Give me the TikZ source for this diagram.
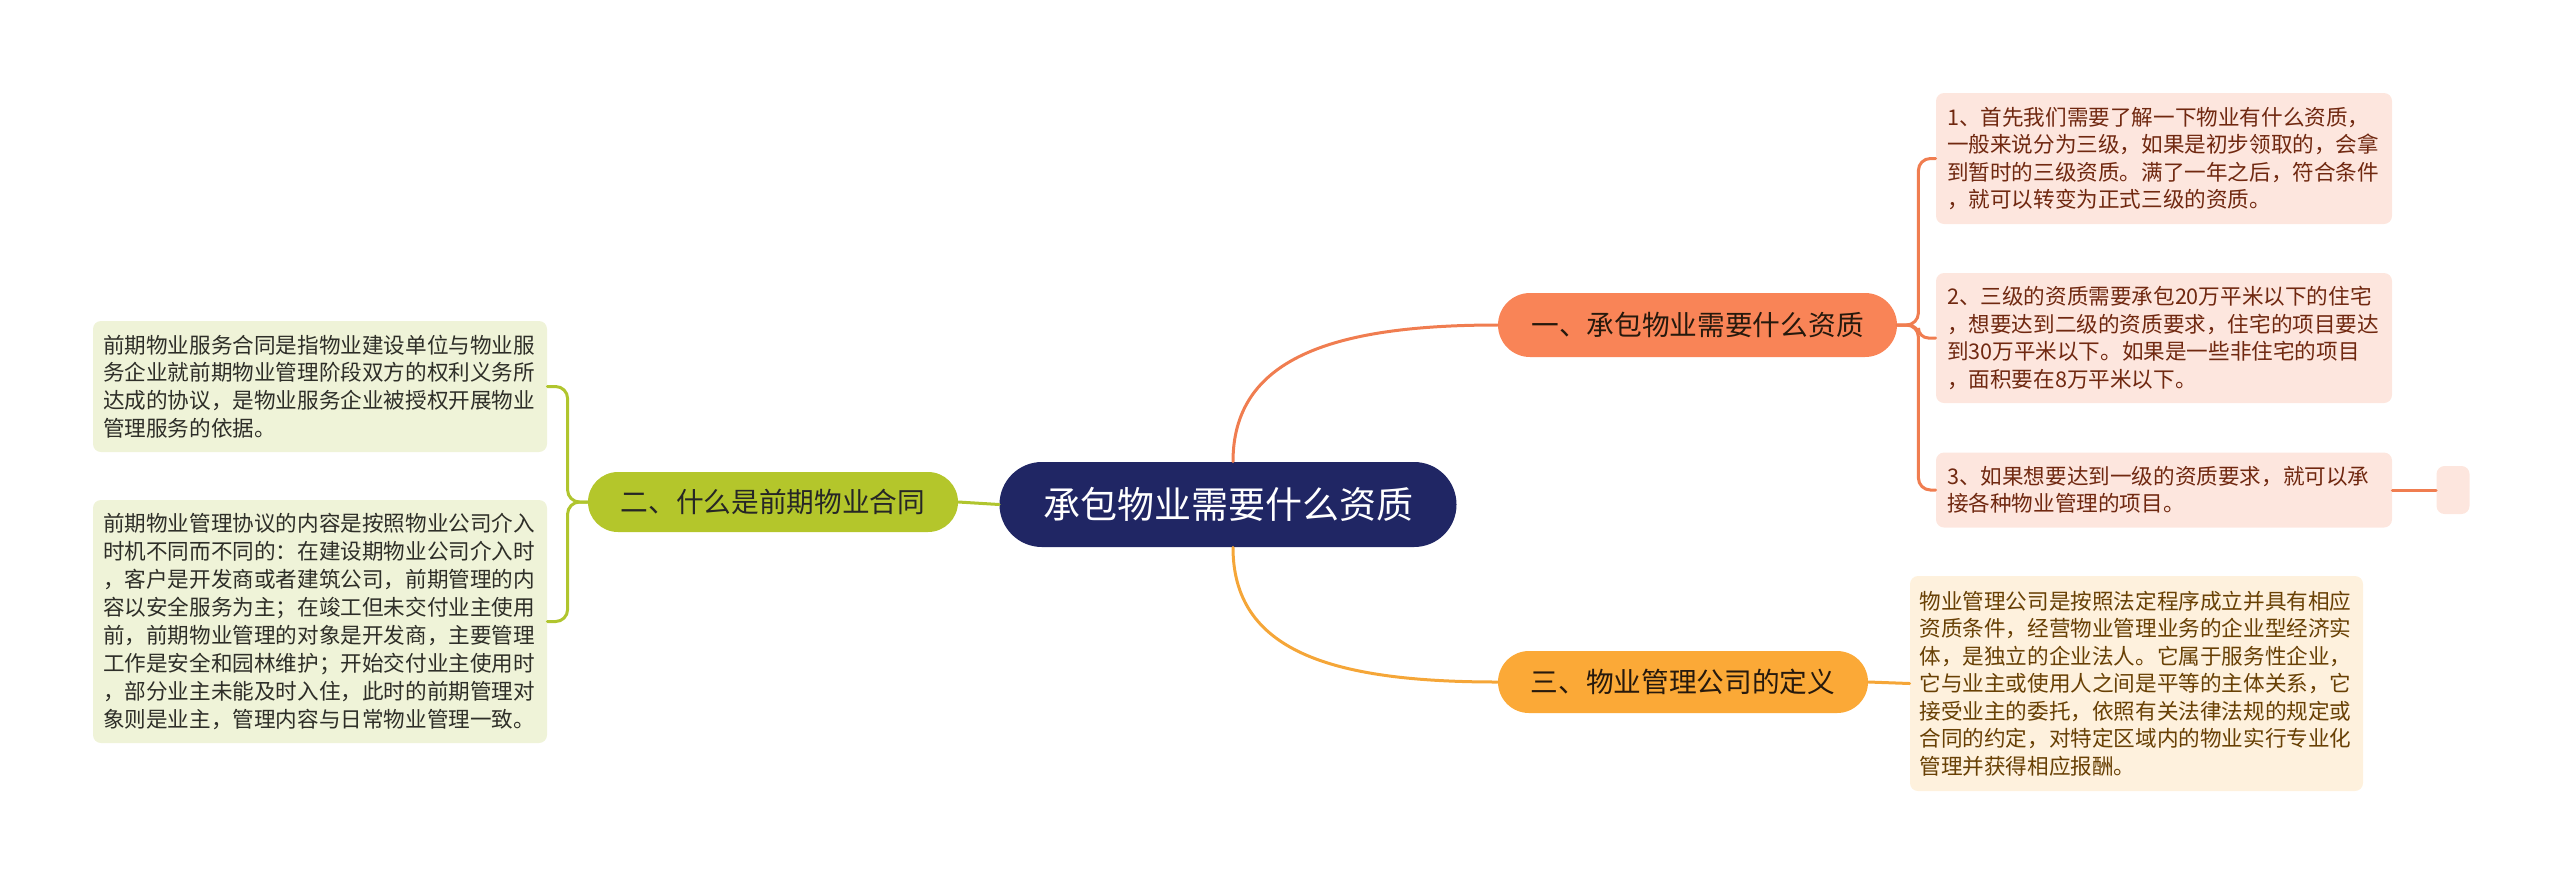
\documentclass[tikz,border=0pt]{standalone}
\usepackage{fontspec}
\setmainfont{Noto Sans CJK SC}
\usetikzlibrary{calc}
\definecolor{navy}{RGB}{32,38,100}
\definecolor{coral}{RGB}{249,132,87}
\definecolor{coralline}{RGB}{240,125,80}
\definecolor{orng}{RGB}{251,169,55}
\definecolor{orngline}{RGB}{245,166,56}
\definecolor{grn}{RGB}{180,198,43}
\definecolor{grnline}{RGB}{176,197,46}
\definecolor{pinkleaf}{RGB}{253,230,222}
\definecolor{pinktext}{RGB}{112,40,16}
\definecolor{creamleaf}{RGB}{254,241,221}
\definecolor{creamtext}{RGB}{104,64,4}
\definecolor{greenleaf}{RGB}{239,243,216}
\definecolor{greentext}{RGB}{46,46,40}
\tikzset{
  pillnode/.style={inner sep=0pt, align=center},
  leafnode/.style={inner sep=0pt, align=left, rounded corners=4pt},
  leaftext/.style={leafnode, text width=217pt},
  conn/.style={line width=1.5pt, line cap=round},
}
\begin{document}
\begin{tikzpicture}[x=0.5pt, y=-0.5pt]
\useasboundingbox (0,0) rectangle (2560,885);

% central
\node[pillnode, fill=navy, text=white, minimum width=228.5pt, minimum height=42.5pt, rounded corners=21.2pt,
  font=\fontsize{18.5pt}{22pt}\selectfont] (c) at (1228,504.5) {承包物业需要什么资质};

% branches
\node[pillnode, fill=coral, text=black!80!brown, minimum width=199.5pt, minimum height=32pt, rounded corners=16pt,
  font=\fontsize{13.85pt}{16pt}\selectfont] (b1) at (1697.5,325) {一、承包物业需要什么资质};
\node[pillnode, fill=grn, text=black!85, minimum width=185pt, minimum height=30pt, rounded corners=15pt,
  font=\fontsize{13.85pt}{16pt}\selectfont] (b2) at (773,502) {二、什么是前期物业合同};
\node[pillnode, fill=orng, text=black!80!brown, minimum width=185pt, minimum height=31pt, rounded corners=15.5pt,
  font=\fontsize{13.85pt}{16pt}\selectfont] (b3) at (1683,682) {三、物业管理公司的定义};

% right leaves of branch 1
\node[leaftext, fill=pinkleaf, text=pinktext, minimum width=228pt, minimum height=65.5pt,
  font=\fontsize{10.8pt}{13.7pt}\selectfont] (l1) at (2164,158.5) {1、首先我们需要了解一下物业有什么资质，\\一般来说分为三级，如果是初步领取的，会拿\\到暂时的三级资质。满了一年之后，符合条件\\，就可以转变为正式三级的资质。};
\node[leaftext, fill=pinkleaf, text=pinktext, minimum width=228pt, minimum height=65pt,
  font=\fontsize{10.8pt}{13.7pt}\selectfont] (l2) at (2164,338) {2、三级的资质需要承包20万平米以下的住宅\\，想要达到二级的资质要求，住宅的项目要达\\到30万平米以下。如果是一些非住宅的项目\\，面积要在8万平米以下。};
\node[leaftext, fill=pinkleaf, text=pinktext, minimum width=228pt, minimum height=37.5pt,
  font=\fontsize{10.8pt}{13.7pt}\selectfont] (l3) at (2164,490) {3、如果想要达到一级的资质要求，就可以承\\接各种物业管理的项目。};
\node[leafnode, fill=pinkleaf, minimum width=16.5pt, minimum height=24pt] (sm) at (2453,490) {};

% leaf of branch 3
\node[leaftext, fill=creamleaf, text=creamtext, minimum width=226.5pt, minimum height=107.5pt,
  font=\fontsize{10.8pt}{13.75pt}\selectfont] (l4) at (2136.5,683.5) {物业管理公司是按照法定程序成立并具有相应\\资质条件，经营物业管理业务的企业型经济实\\体，是独立的企业法人。它属于服务性企业，\\它与业主或使用人之间是平等的主体关系，它\\接受业主的委托，依照有关法律法规的规定或\\合同的约定，对特定区域内的物业实行专业化\\管理并获得相应报酬。};

% left leaves of branch 2
\node[leaftext, fill=greenleaf, text=greentext, minimum width=227pt, minimum height=65.5pt,
  font=\fontsize{10.8pt}{13.9pt}\selectfont] (la) at (320,386.5) {前期物业服务合同是指物业建设单位与物业服\\务企业就前期物业管理阶段双方的权利义务所\\达成的协议，是物业服务企业被授权开展物业\\管理服务的依据。};
\node[leaftext, fill=greenleaf, text=greentext, minimum width=227pt, minimum height=121.5pt,
  font=\fontsize{10.8pt}{14pt}\selectfont] (lb) at (320,621.5) {前期物业管理协议的内容是按照物业公司介入\\时机不同而不同的：在建设期物业公司介入时\\，客户是开发商或者建筑公司，前期管理的内\\容以安全服务为主；在竣工但未交付业主使用\\前，前期物业管理的对象是开发商，主要管理\\工作是安全和园林维护；开始交付业主使用时\\，部分业主未能及时入住，此时的前期管理对\\象则是业主，管理内容与日常物业管理一致。};

% connectors from central
\draw[conn, coralline] ($(c.north)+(5,0)$) .. controls +(0,-102) and +(-168,0) .. (b1.west);
\draw[conn, orngline] ($(c.south)+(5,0)$) .. controls +(0,103) and +(-168,0) .. (b3.west);
\draw[conn, grnline] (c.west) -- (b2.east);

% branch 1 brackets
\draw[conn, coralline, rounded corners=6pt] (b1.east) -- ++(21,0) |- (l1.west);
\draw[conn, coralline, rounded corners=5pt] (b1.east) -- ++(21,0) |- (l2.west);
\draw[conn, coralline, rounded corners=6pt] (b1.east) -- ++(21,0) |- (l3.west);
\draw[conn, coralline] (l3.east) -- (sm.west);

% branch 2 brackets
\draw[conn, grnline, rounded corners=6pt] (b2.west) -- ++(-20,0) |- (la.east);
\draw[conn, grnline, rounded corners=6pt] (b2.west) -- ++(-20,0) |- (lb.east);

% branch 3
\draw[conn, orngline] (b3.east) -- (l4.west);
\end{tikzpicture}
\end{document}
